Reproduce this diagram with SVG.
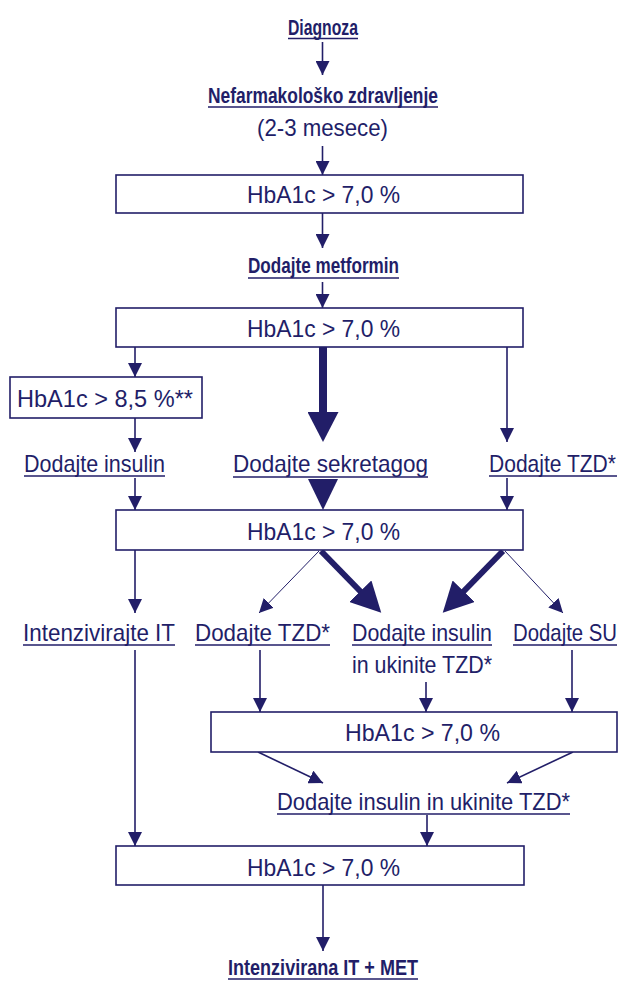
<svg xmlns="http://www.w3.org/2000/svg" width="623" height="981" viewBox="0 0 623 981">
<defs>
<style>
.t{font-family:"Liberation Sans",Arial,sans-serif;font-size:24px;fill:#221e68}
.b{font-family:"Liberation Sans",Arial,sans-serif;font-size:22.5px;font-weight:bold;fill:#221e68}
.box{fill:#fff;stroke:#221e68;stroke-width:1.6}
.ul{stroke:#221e68;stroke-width:1.4}
.c{stroke:#221e68;stroke-width:1.6;fill:none}
.cthin{stroke:#221e68;stroke-width:1;fill:none}
.cthick{stroke:#221e68;stroke-width:8;fill:none}
.cdiag{stroke:#221e68;stroke-width:6;fill:none}
.head{fill:#221e68}
</style>
<marker id="a" markerUnits="userSpaceOnUse" markerWidth="14" markerHeight="14" refX="14" refY="7" orient="auto">
<path d="M0,0 L14,7 L0,14 z" fill="#221e68"/>
</marker>
<marker id="big" markerUnits="userSpaceOnUse" markerWidth="31" markerHeight="31" refX="1" refY="15.5" orient="auto">
<path d="M0,0 L30,15.5 L0,31 z" fill="#221e68"/>
</marker>
</defs>
<rect width="623" height="981" fill="#fff"/>

<g id="connectors">
<line class="c" x1="322.5" y1="42" x2="322.5" y2="75" marker-end="url(#a)"/>
<line class="c" x1="322.5" y1="146" x2="322.5" y2="175" marker-end="url(#a)"/>
<line class="c" x1="322.5" y1="213" x2="322.5" y2="248" marker-end="url(#a)"/>
<line class="c" x1="322.5" y1="282" x2="322.5" y2="308" marker-end="url(#a)"/>
<line class="c" x1="135" y1="347" x2="135" y2="377" marker-end="url(#a)"/>
<line class="cthick" x1="323" y1="347" x2="323" y2="413" marker-end="url(#big)"/>
<line class="c" x1="507" y1="347" x2="507" y2="442" marker-end="url(#a)"/>
<line class="c" x1="135" y1="418" x2="135" y2="452" marker-end="url(#a)"/>
<line class="c" x1="135" y1="478" x2="135" y2="510" marker-end="url(#a)"/>
<path class="head" d="M308,479 L338,479 L323,510 z"/>
<line class="c" x1="507" y1="478" x2="507" y2="510" marker-end="url(#a)"/>
<line class="c" x1="135" y1="550" x2="135" y2="613" marker-end="url(#a)"/>
<line class="cthin" x1="319" y1="551" x2="259" y2="613" marker-end="url(#a)"/>
<line class="cdiag" x1="321" y1="551" x2="361" y2="592" marker-end="url(#big)"/>
<line class="cdiag" x1="503" y1="551" x2="463" y2="592" marker-end="url(#big)"/>
<line class="cthin" x1="505" y1="551" x2="563" y2="613" marker-end="url(#a)"/>
<line class="c" x1="260" y1="650" x2="260" y2="712" marker-end="url(#a)"/>
<line class="c" x1="426" y1="682" x2="426" y2="712" marker-end="url(#a)"/>
<line class="c" x1="572" y1="650" x2="572" y2="712" marker-end="url(#a)"/>
<line class="c" x1="258" y1="752" x2="323" y2="783" marker-end="url(#a)"/>
<line class="c" x1="573" y1="752" x2="507" y2="783" marker-end="url(#a)"/>
<line class="c" x1="427" y1="815" x2="427" y2="846" marker-end="url(#a)"/>
<line class="c" x1="135" y1="650" x2="135" y2="846" marker-end="url(#a)"/>
<line class="c" x1="323" y1="885" x2="323" y2="951" marker-end="url(#a)"/>
</g>

<g id="diagnoza">
<text class="b" x="288" y="35" textLength="70" lengthAdjust="spacingAndGlyphs">Diagnoza</text>
<line class="ul" x1="288" y1="38.5" x2="358" y2="38.5"/>
</g>
<g id="nefarm">
<text class="b" x="208" y="103" textLength="230" lengthAdjust="spacingAndGlyphs">Nefarmakološko zdravljenje</text>
<line class="ul" x1="208" y1="107" x2="438" y2="107"/>
<text class="t" x="257" y="136" textLength="131" lengthAdjust="spacingAndGlyphs">(2-3 mesece)</text>
</g>
<g id="box1">
<rect class="box" x="116" y="175" width="407" height="38"/>
<text class="t" x="247" y="203" textLength="153" lengthAdjust="spacingAndGlyphs">HbA1c &gt; 7,0 %</text>
</g>
<g id="metformin">
<text class="b" x="248" y="273" textLength="151" lengthAdjust="spacingAndGlyphs">Dodajte metformin</text>
<line class="ul" x1="248" y1="278" x2="399" y2="278"/>
</g>
<g id="box2">
<rect class="box" x="116" y="308" width="407" height="39"/>
<text class="t" x="247" y="337" textLength="153" lengthAdjust="spacingAndGlyphs">HbA1c &gt; 7,0 %</text>
</g>
<g id="box85">
<rect class="box" x="10" y="377" width="192" height="41"/>
<text class="t" x="17" y="407" textLength="176" lengthAdjust="spacingAndGlyphs">HbA1c &gt; 8,5 %**</text>
</g>
<g id="insulin1">
<text class="t" x="24" y="472" textLength="141" lengthAdjust="spacingAndGlyphs">Dodajte insulin</text>
<line class="ul" x1="24" y1="476" x2="165" y2="476"/>
</g>
<g id="sekretagog">
<text class="t" x="233" y="472" textLength="195" lengthAdjust="spacingAndGlyphs">Dodajte sekretagog</text>
<line class="ul" x1="233" y1="477" x2="428" y2="477"/>
</g>
<g id="tzd1">
<text class="t" transform="translate(489,472) scale(0.85,1)" x="0" y="0" textLength="149.4" lengthAdjust="spacingAndGlyphs">Dodajte TZD*</text>
<line class="ul" x1="489" y1="476" x2="617" y2="476"/>
</g>
<g id="box3">
<rect class="box" x="116" y="510" width="407" height="40"/>
<text class="t" x="247" y="540" textLength="153" lengthAdjust="spacingAndGlyphs">HbA1c &gt; 7,0 %</text>
</g>
<g id="intenz">
<text class="t" x="23" y="641" textLength="152" lengthAdjust="spacingAndGlyphs">Intenzivirajte IT</text>
<line class="ul" x1="23" y1="645" x2="175" y2="645"/>
</g>
<g id="tzd2">
<text class="t" x="195" y="641" textLength="135" lengthAdjust="spacingAndGlyphs">Dodajte TZD*</text>
<line class="ul" x1="195" y1="645" x2="330" y2="645"/>
</g>
<g id="insulin2">
<text class="t" x="352" y="641" textLength="140" lengthAdjust="spacingAndGlyphs">Dodajte insulin</text>
<line class="ul" x1="352" y1="645" x2="492" y2="645"/>
<text class="t" x="352" y="673" textLength="140" lengthAdjust="spacingAndGlyphs">in ukinite TZD*</text>
</g>
<g id="su">
<text class="t" transform="translate(513,641) scale(0.85,1)" x="0" y="0" textLength="122.4" lengthAdjust="spacingAndGlyphs">Dodajte SU</text>
<line class="ul" x1="513" y1="645" x2="617" y2="645"/>
</g>
<g id="box4">
<rect class="box" x="211" y="712" width="406" height="40"/>
<text class="t" x="345" y="741" textLength="155" lengthAdjust="spacingAndGlyphs">HbA1c &gt; 7,0 %</text>
</g>
<g id="insulin3">
<text class="t" x="277" y="810" textLength="293" lengthAdjust="spacingAndGlyphs">Dodajte insulin in ukinite TZD*</text>
<line class="ul" x1="277" y1="814" x2="570" y2="814"/>
</g>
<g id="box5">
<rect class="box" x="116" y="846" width="408" height="39"/>
<text class="t" x="247" y="876" textLength="153" lengthAdjust="spacingAndGlyphs">HbA1c &gt; 7,0 %</text>
</g>
<g id="final">
<text class="b" x="228" y="975" textLength="190" lengthAdjust="spacingAndGlyphs">Intenzivirana IT + MET</text>
<line class="ul" x1="228" y1="979" x2="418" y2="979"/>
</g>
</svg>
